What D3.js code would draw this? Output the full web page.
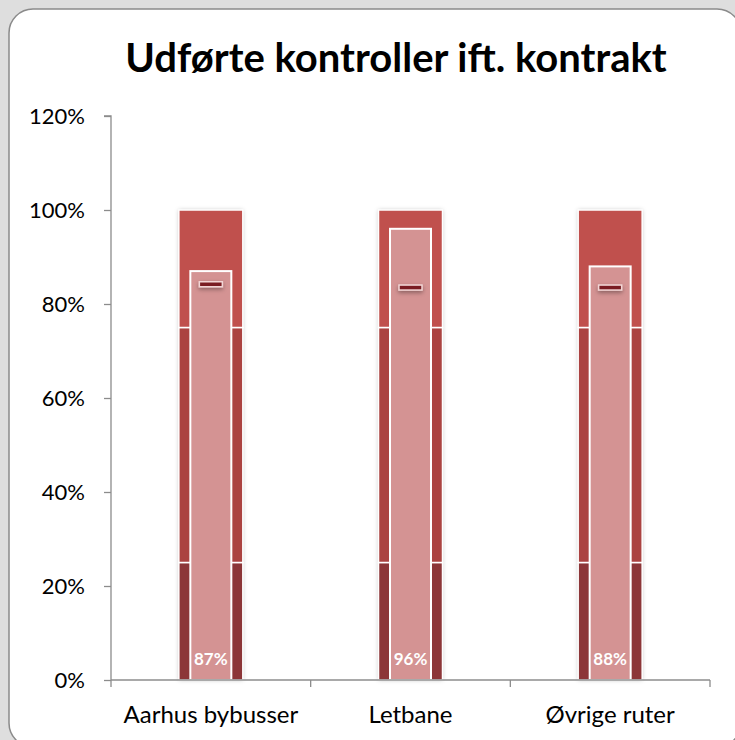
<!DOCTYPE html>
<html>
<head>
<meta charset="utf-8">
<script src="https://cdn.jsdelivr.net/npm/d3@7"></script>
<style>
  body { margin: 0; background: #dedede; }
  svg { display: block; }
</style>
</head>
<body>
<svg id="chart" width="735" height="740"></svg>
<script>
// data
const categories = ["Aarhus bybusser", "Letbane", "Øvrige ruter"];
const actual = [0.87, 0.96, 0.88];
const target = [0.842, 0.835, 0.835];
const bandLimits = [0.25, 0.75, 1.0];
const bandColors = ["#8c3638", "#ab4341", "#c0504d"];
const yTicks = [0, 0.2, 0.4, 0.6, 0.8, 1.0, 1.2];

const svg = d3.select("#chart");
const font = "Lato, 'Open Sans', sans-serif";

const defs = svg.append("defs");
const glow = defs.append("filter").attr("id", "glow")
    .attr("x", "-30%").attr("y", "-10%").attr("width", "160%").attr("height", "120%");
glow.append("feDropShadow").attr("dx", 0).attr("dy", 0)
    .attr("stdDeviation", 2).attr("flood-color", "#000").attr("flood-opacity", 0.25);
const shadow = defs.append("filter").attr("id", "shadow")
    .attr("x", "-40%").attr("y", "-100%").attr("width", "180%").attr("height", "400%");
shadow.append("feDropShadow").attr("dx", 0).attr("dy", 2)
    .attr("stdDeviation", 2).attr("flood-color", "#000").attr("flood-opacity", 0.35);

// panel
svg.append("rect")
    .attr("x", 9).attr("y", 9).attr("width", 732).attr("height", 738)
    .attr("rx", 24).attr("ry", 24)
    .attr("fill", "#fff").attr("stroke", "#8a8a8a").attr("stroke-width", 1.5);

svg.append("text")
    .attr("x", 396).attr("y", 72)
    .attr("text-anchor", "middle")
    .attr("font-family", font).attr("font-weight", "bold").attr("font-size", 40)
    .text("Udførte kontroller ift. kontrakt");

const x = d3.scaleBand().domain(categories).range([111, 710]);
const y = d3.scaleLinear().domain([0, 1.2]).range([680, 116]);

const outerW = 64, innerW = 41, markW = 23, markH = 5;

// y axis
const yAxis = svg.append("g").attr("transform", "translate(111,0)")
    .call(d3.axisLeft(y).tickValues(yTicks).tickSize(7).tickPadding(19)
        .tickFormat(d3.format(".0%")));
yAxis.select(".domain").attr("stroke", "#8c8c8c").attr("stroke-width", 1.3)
    .attr("d", `M-7,${y(1.2)}H0V${y(0)}`);
yAxis.selectAll(".tick line").attr("stroke", "#8c8c8c").attr("stroke-width", 1.3);
yAxis.selectAll(".tick text").attr("font-family", font).attr("font-size", 22).attr("fill", "#000");

const groups = svg.selectAll(".cat").data(categories).join("g")
    .attr("class", "cat")
    .attr("transform", d => `translate(${x(d) + x.bandwidth() / 2},0)`);

// background bands
groups.append("rect")
    .attr("x", -outerW / 2).attr("width", outerW)
    .attr("y", y(1.0)).attr("height", y(0) - y(1.0))
    .attr("fill", "#fff").attr("filter", "url(#glow)");

groups.each(function () {
    const g = d3.select(this);
    bandLimits.forEach((top, j) => {
        const bottom = j === 0 ? 0 : bandLimits[j - 1];
        g.append("rect")
            .attr("x", -outerW / 2).attr("width", outerW)
            .attr("y", y(top)).attr("height", y(bottom) - y(top))
            .attr("fill", bandColors[j])
            .attr("stroke", "#fff").attr("stroke-width", 1.5);
    });
});

// actual bars
groups.append("rect")
    .attr("x", -innerW / 2).attr("width", innerW)
    .attr("y", (d, i) => y(actual[i]))
    .attr("height", (d, i) => y(0) - y(actual[i]))
    .attr("fill", "#d49393").attr("stroke", "#fff").attr("stroke-width", 2);

// target markers
groups.append("rect")
    .attr("x", -markW / 2).attr("width", markW)
    .attr("y", (d, i) => y(target[i]) - markH / 2).attr("height", markH)
    .attr("fill", "#7a1f22").attr("stroke", "#f2d6d6").attr("stroke-width", 1.5)
    .attr("filter", "url(#shadow)");

// value labels
groups.append("text")
    .attr("y", 665).attr("text-anchor", "middle")
    .attr("font-family", font).attr("font-weight", "bold").attr("font-size", 17)
    .attr("fill", "#fff")
    .text((d, i) => d3.format(".0%")(actual[i]));

// x axis
const xAxis = svg.append("g").attr("transform", "translate(0,680)")
    .call(d3.axisBottom(x).tickSize(0).tickPadding(0));
xAxis.select(".domain").remove();
xAxis.append("path")
    .attr("d", `M111,0H710`).attr("stroke", "#8c8c8c").attr("stroke-width", 1.3);
xAxis.selectAll(".sep").data(d3.range(categories.length + 1)).join("line")
    .attr("class", "sep")
    .attr("x1", i => 111 + i * x.bandwidth()).attr("x2", i => 111 + i * x.bandwidth())
    .attr("y1", 0).attr("y2", 7)
    .attr("stroke", "#8c8c8c").attr("stroke-width", 1.3);
xAxis.selectAll(".tick text").attr("font-family", font).attr("font-size", 24).attr("fill", "#000")
    .attr("dy", null).attr("y", 43);
</script>
</body>
</html>
